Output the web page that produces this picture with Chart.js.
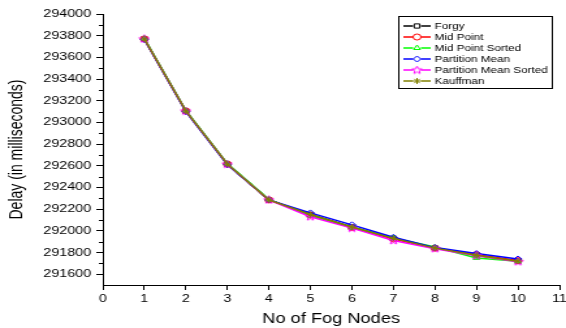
<!DOCTYPE html>
<html>
<head>
<meta charset="utf-8">
<script src="https://cdn.jsdelivr.net/npm/chart.js@4.4.1/dist/chart.umd.min.js"></script>
<style>
  html, body { margin: 0; padding: 0; background: #ffffff; overflow: hidden; }
  #wrap { width: 435px; height: 328px; transform: scaleX(1.30115); transform-origin: 0 0; }
</style>
</head>
<body>
<div id="wrap"><canvas id="c" width="435" height="328"></canvas></div>
<script>
// ---- data ----
const fogNodes = [1, 2, 3, 4, 5, 6, 7, 8, 9, 10];
const forgy               = [293770, 293105, 292615, 292285, 292150, 292035, 291930, 291840, 291775, 291720];
const midPoint            = [293770, 293105, 292615, 292285, 292145, 292030, 291925, 291840, 291780, 291725];
const midPointSorted      = [293775, 293110, 292620, 292290, 292140, 292030, 291935, 291850, 291750, 291720];
const partitionMean       = [293765, 293100, 292610, 292285, 292165, 292055, 291940, 291845, 291790, 291740];
const partitionMeanSorted = [293770, 293105, 292615, 292285, 292130, 292025, 291910, 291835, 291770, 291715];
const kauffman            = [293770, 293105, 292615, 292285, 292150, 292035, 291930, 291840, 291775, 291720];
const seriesNames = ['Forgy', 'Mid Point', 'Mid Point Sorted', 'Partition Mean', 'Partition Mean Sorted', 'Kauffman'];
const xTicks = [0, 1, 2, 3, 4, 5, 6, 7, 8, 9, 10, 11];
const yTicks = [291600, 291800, 292000, 292200, 292400, 292600, 292800, 293000, 293200, 293400, 293600, 293800, 294000];
const yMinorTicks = [291700, 291900, 292100, 292300, 292500, 292700, 292900, 293100, 293300, 293500, 293700, 293900];

// ---- styles ----
const colors = ['#000000', '#ff0000', '#00ff00', '#0000ff', '#ff00ff', '#808000'];

function makePentagram(color) {
  const c = document.createElement('canvas');
  c.width = 9; c.height = 9;
  const g = c.getContext('2d');
  g.strokeStyle = color; g.lineWidth = 1;
  g.beginPath();
  for (let i = 0; i < 10; i++) {
    const r = (i % 2 === 0) ? 4 : 1.8;
    const a = -Math.PI / 2 + i * Math.PI / 5;
    const px = 4.5 + r * Math.cos(a), py = 4.7 + r * Math.sin(a);
    if (i === 0) g.moveTo(px, py); else g.lineTo(px, py);
  }
  g.closePath();
  g.stroke();
  return c;
}
const pointStyles = ['rect', 'circle', 'triangle', 'rectRot', makePentagram(colors[4]), 'star'];
const allSeries = [forgy, midPoint, midPointSorted, partitionMean, partitionMeanSorted, kauffman];

const datasets = allSeries.map((vals, i) => ({
  label: seriesNames[i],
  data: fogNodes.map((x, j) => ({ x: x, y: vals[j] })),
  borderColor: colors[i],
  backgroundColor: 'rgba(0,0,0,0)',
  pointBorderColor: colors[i],
  pointBackgroundColor: 'rgba(0,0,0,0)',
  pointStyle: pointStyles[i],
  pointRadius: 3,
  pointBorderWidth: 1,
  borderWidth: 1.5,
  order: 6 - i
}));

const FONT = '"Liberation Sans", Arial, sans-serif';

const minorTickPlugin = {
  id: 'minorTicks',
  afterDraw(chart) {
    const ctx = chart.ctx;
    const y = chart.scales.y;
    const left = chart.chartArea.left;
    ctx.save();
    ctx.strokeStyle = '#000';
    ctx.lineWidth = 1;
    yMinorTicks.forEach(v => {
      const py = Math.round(y.getPixelForValue(v)) + 0.5;
      ctx.beginPath();
      ctx.moveTo(left - 3, py);
      ctx.lineTo(left, py);
      ctx.stroke();
    });
    ctx.restore();
  }
};

const legendPlugin = {
  id: 'boxLegend',
  afterDraw(chart) {
    const ctx = chart.ctx;
    const bx = 306, by = 16, bw = 118, bh = 72;
    ctx.save();
    ctx.fillStyle = '#ffffff';
    ctx.fillRect(bx, by, bw, bh);
    ctx.strokeStyle = '#000';
    ctx.lineWidth = 1;
    ctx.strokeRect(bx + 0.5, by + 0.5, bw, bh);
    ctx.font = '9px ' + FONT;
    ctx.textBaseline = 'middle';
    ctx.textAlign = 'left';
    seriesNames.forEach((name, i) => {
      const ry = by + 10 + i * 11;
      ctx.strokeStyle = colors[i];
      ctx.lineWidth = 1.5;
      ctx.beginPath();
      ctx.moveTo(310, ry);
      ctx.lineTo(331, ry);
      ctx.stroke();
      ctx.fillStyle = '#ffffff';
      ctx.fillRect(317.5, ry - 3, 6, 6);
      ctx.strokeStyle = colors[i];
      ctx.lineWidth = 1;
      Chart.helpers.drawPoint(ctx, { pointStyle: pointStyles[i], radius: 3, borderWidth: 1, rotation: 0 }, 320.5, ry);
      ctx.fillStyle = '#000';
      ctx.fillText(name, 334, ry + 0.5);
    });
    ctx.restore();
  }
};

new Chart(document.getElementById('c'), {
  type: 'line',
  data: { datasets: datasets },
  options: {
    responsive: false,
    animation: false,
    events: [],
    layout: { padding: { left: 0, right: 4, top: 14, bottom: 0 } },
    plugins: { legend: { display: false }, tooltip: { enabled: false } },
    scales: {
      x: {
        type: 'linear',
        min: 0, max: 11,
        afterBuildTicks(scale) { scale.ticks = xTicks.map(v => ({ value: v })); },
        afterFit(scale) { scale.height = 43; scale.paddingRight = 0; scale.paddingLeft = 0; },
        ticks: { font: { family: FONT, size: 11 }, color: '#000', padding: 2, maxRotation: 0, autoSkip: false,
                 callback: v => String(v) },
        grid: { display: true, drawOnChartArea: false, drawTicks: true, tickLength: 5, color: '#000', lineWidth: 1 },
        border: { display: true, color: '#000', width: 1 },
        title: { display: true, text: 'No of Fog Nodes', font: { family: FONT, size: 14 }, color: '#000', padding: { top: 0, bottom: 0 } }
      },
      y: {
        type: 'linear',
        min: 291500, max: 294000,
        afterBuildTicks(scale) { scale.ticks = yTicks.map(v => ({ value: v })); },
        afterFit(scale) { scale.width = 79; scale.paddingTop = 0; scale.paddingBottom = 0; },
        ticks: { font: { family: FONT, size: 11 }, color: '#000', padding: 4, autoSkip: false,
                 callback: v => String(v) },
        grid: { display: true, drawOnChartArea: false, drawTicks: true, tickLength: 5, color: '#000', lineWidth: 1 },
        border: { display: true, color: '#000', width: 1 },
        title: { display: true, text: 'Delay (in milliseconds)', font: { family: FONT, size: 14 }, color: '#000', padding: { top: 5, bottom: 0 } }
      }
    }
  },
  plugins: [minorTickPlugin, legendPlugin]
});
</script>
</body>
</html>
